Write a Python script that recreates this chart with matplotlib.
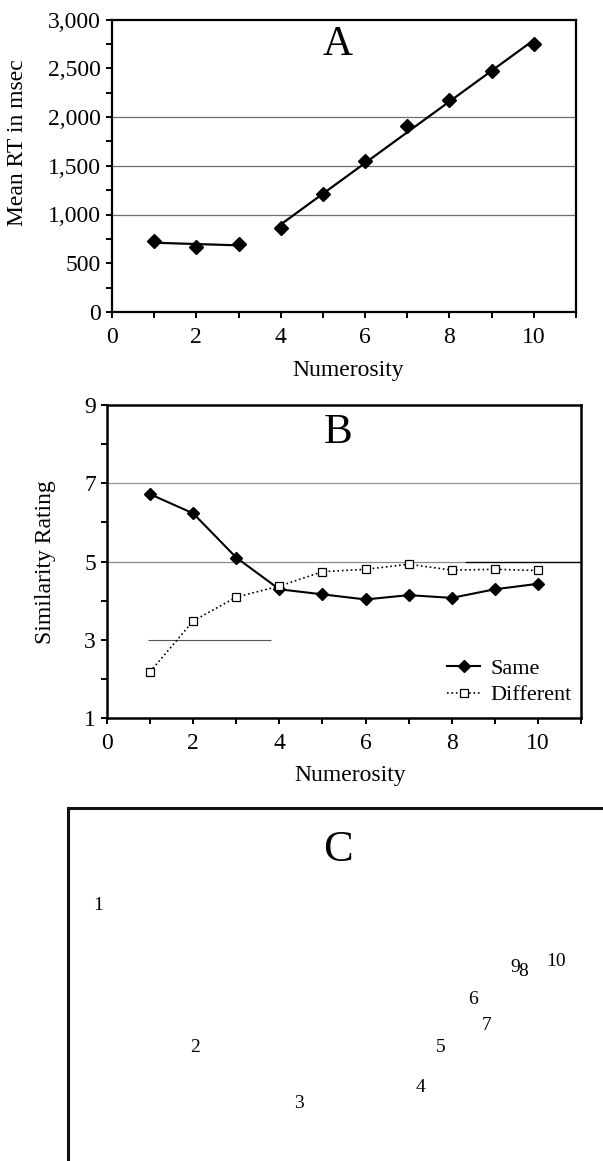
import numpy as np
import matplotlib
matplotlib.use("Agg")
import matplotlib.pyplot as plt
from matplotlib.ticker import MultipleLocator, FixedLocator, FuncFormatter

plt.rcParams['font.family'] = ['Liberation Serif', 'DejaVu Serif']

# panel A: mean RT by numerosity
numerosity = np.arange(1, 11)
mean_rt = [724, 670, 697, 857, 1207, 1544, 1905, 2170, 2476, 2745]

# panel B: similarity ratings
same = [6.72, 6.23, 5.10, 4.29, 4.16, 4.03, 4.14, 4.07, 4.29, 4.43]
different = [2.18, 3.48, 4.09, 4.37, 4.74, 4.80, 4.93, 4.78, 4.80, 4.77]

# panel C: MDS solution (label, dim1, dim2)
mds_labels = ['1', '2', '3', '4', '5', '6', '7', '9', '8', '10']
mds_dim1 = [-2.42, -1.45, -0.41, 0.80, 1.01, 1.33, 1.465, 1.75, 1.83, 2.16]
mds_dim2 = [0.94, -0.47, -1.03, -0.87, -0.47, 0.00, -0.26, 0.32, 0.28, 0.38]

W, H = 603, 1161
fig = plt.figure(figsize=(W / 100, H / 100), dpi=100)


def px_axes(l, t, r, b):
    return fig.add_axes([l / W, 1 - b / H, (r - l) / W, (b - t) / H])


def style_box(ax, lw):
    for s in ax.spines.values():
        s.set_linewidth(lw)
        s.set_color('black')
    ax.tick_params(which='both', direction='out', length=4, width=1.4,
                   labelsize=17, pad=4, top=False, right=False)
    ax.tick_params(axis='x', which='major', pad=7)


# ---- A ----
axA = px_axes(112, 19.5, 576, 312)
style_box(axA, 1.6)
for g in (1000, 1500, 2000):
    axA.axhline(g, color='#6e6e6e', lw=0.9, zorder=0)
x = np.array(numerosity)
y = np.array(mean_rt)
lo = x <= 3
hi = x >= 4
for m in (lo, hi):
    k, c = np.polyfit(x[m], y[m], 1)
    xs = np.array([x[m].min(), x[m].max()])
    axA.plot(xs, k * xs + c, color='black', lw=1.6, zorder=2)
axA.plot(x, y, 'D', color='black', ms=7, zorder=3)
axA.set_xlim(0, 11)
axA.set_ylim(0, 3000)
axA.xaxis.set_major_locator(MultipleLocator(2))
axA.xaxis.set_minor_locator(MultipleLocator(1))
axA.yaxis.set_major_locator(MultipleLocator(500))
axA.yaxis.set_minor_locator(MultipleLocator(250))
axA.yaxis.set_major_formatter(FuncFormatter(lambda v, p: f"{int(v):,}"))
axA.xaxis.set_major_formatter(FuncFormatter(lambda v, p: "" if v > 10 else f"{int(v)}"))
axA.set_xlabel('Numerosity', fontsize=17)
axA.set_ylabel('Mean RT in msec', fontsize=17)
axA.xaxis.set_label_coords(0.51, -0.165)
axA.yaxis.set_label_coords(-0.18, 0.58)
axA.text(0.487, 0.913, 'A', transform=axA.transAxes, fontsize=30,
         ha='center', va='center')

# ---- B ----
axB = px_axes(107, 405, 581, 718)
style_box(axB, 1.8)
axB.axhline(7, color='#9a9a9a', lw=0.9, zorder=0)
axB.hlines(5, 0, 8.3, color='#8a8a8a', lw=0.9, zorder=0)
axB.hlines(5, 8.3, 11, color='black', lw=1.0, zorder=0)
axB.hlines(3, 0.95, 3.8, color='#555555', lw=0.8, zorder=0)
axB.plot(numerosity, same, '-D', color='black', lw=1.5, ms=6.5,
         label='Same', zorder=3)
axB.plot(numerosity, different, ':s', color='black', lw=1.2, ms=5.5,
         mfc='white', mec='black', mew=0.9, label='Different', zorder=3)
axB.set_xlim(0, 11)
axB.set_ylim(1, 9)
axB.xaxis.set_major_locator(MultipleLocator(2))
axB.xaxis.set_minor_locator(MultipleLocator(1))
axB.yaxis.set_major_locator(FixedLocator([1, 3, 5, 7, 9]))
axB.yaxis.set_minor_locator(FixedLocator([2, 4, 6, 8]))
axB.xaxis.set_major_formatter(FuncFormatter(lambda v, p: "" if v > 10 else f"{int(v)}"))
axB.set_xlabel('Numerosity', fontsize=17)
axB.set_ylabel('Similarity Rating', fontsize=17)
axB.xaxis.set_label_coords(0.513, -0.15)
axB.yaxis.set_label_coords(-0.108, 0.498)
axB.text(0.487, 0.91, 'B', transform=axB.transAxes, fontsize=31,
         ha='center', va='center')
axB.legend(loc='center left', bbox_to_anchor=(0.717, 0.115), frameon=False,
           fontsize=16, handlelength=1.5, handletextpad=0.45,
           labelspacing=0.25, borderpad=0, borderaxespad=0)

# ---- C ----
axC = px_axes(68, 808, 650, 1211)
for s in axC.spines.values():
    s.set_linewidth(2.2)
    s.set_color('#111111')
axC.set_xticks([])
axC.set_yticks([])
axC.set_xlim(-2.72, 3.10)
axC.set_ylim(-2.11, 1.92)
for lab, d1, d2 in zip(mds_labels, mds_dim1, mds_dim2):
    axC.text(d1, d2, lab, fontsize=14, ha='center', va='center')
axC.text(-0.02, 1.5, 'C', fontsize=32, ha='center', va='center')

fig.savefig('out.png', dpi=100)
